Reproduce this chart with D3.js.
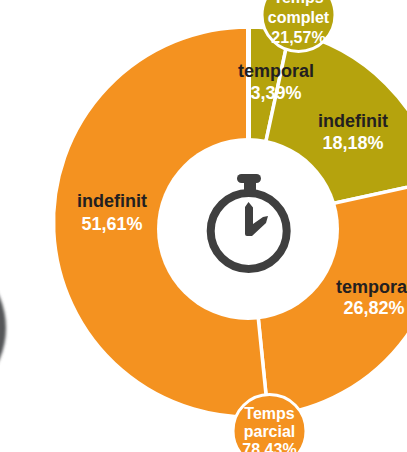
<!DOCTYPE html>
<html>
<head>
<meta charset="utf-8">
<script src="https://cdn.jsdelivr.net/npm/d3@7"></script>
<style>
  html, body { margin: 0; padding: 0; background: #fff; overflow: hidden; }
  text { font-family: "Liberation Sans", Arial, sans-serif; font-weight: 700; text-anchor: middle; }
</style>
</head>
<body>
<div id="wrapper"></div>
<script>
// data, clockwise from the top
const contracts = ["temporal", "indefinit", "temporal", "indefinit"]
const shares = [3.39, 18.18, 26.82, 51.61]
const shareLabels = ["3,39%", "18,18%", "26,82%", "51,61%"]
const groups = ["complet", "complet", "parcial", "parcial"]
const groupNames = ["complet", "parcial"]
const groupLines = [["Temps", "complet", "21,57%"], ["Temps", "parcial", "78,43%"]]

const width = 407
const height = 452
const center = { x: 248.5, y: 222 }
const outerRadius = 195

const svg = d3.select("#wrapper")
  .append("svg")
  .attr("width", width)
  .attr("height", height)

// blurred bit of the neighbouring chart at the left edge
const defs = svg.append("defs")
defs.append("filter")
  .attr("id", "soft")
  .append("feGaussianBlur")
  .attr("stdDeviation", 1.6)

svg.append("circle")
  .attr("cx", -74)
  .attr("cy", 328)
  .attr("r", 80)
  .attr("fill", "#555759")
  .attr("filter", "url(#soft)")

// ring
const colorScale = d3.scaleOrdinal()
  .domain(groupNames)
  .range(["#b5a30d", "#f49220"])

const pie = d3.pie().sort(null)
const arc = d3.arc().innerRadius(0).outerRadius(outerRadius)

const ring = svg.append("g")
  .attr("transform", `translate(${center.x},${center.y})`)

ring.selectAll("path")
  .data(pie(shares))
  .join("path")
  .attr("d", arc)
  .attr("fill", (d, i) => colorScale(groups[i]))
  .attr("stroke", "#fff")
  .attr("stroke-width", 3.5)

// wider gap at 12 o'clock
ring.append("line")
  .attr("y2", -outerRadius)
  .attr("stroke", "#fff")
  .attr("stroke-width", 5)

svg.append("circle")
  .attr("cx", 248)
  .attr("cy", 229)
  .attr("r", 91)
  .attr("fill", "#fff")

// labels inside the ring
const labelSpots = [[276, 77, 99], [353, 127, 149], [374, 293, 314], [112, 207, 230]]

const labels = svg.append("g").attr("font-size", 18)
contracts.forEach((name, i) => {
  const [x, y1, y2] = labelSpots[i]
  labels.append("text")
    .attr("x", x)
    .attr("y", y1)
    .attr("fill", "#231f20")
    .text(name)
  labels.append("text")
    .attr("x", x)
    .attr("y", y2)
    .attr("fill", "#fff")
    .text(shareLabels[i])
})

// bubbles
const bubbleSpots = [[298.5, 15, [3, 22.5, 43]], [269.5, 431, [419, 437, 455]]]

groupNames.forEach((g, i) => {
  const [x, y, lines] = bubbleSpots[i]
  svg.append("circle")
    .attr("cx", x)
    .attr("cy", y)
    .attr("r", 36.5)
    .attr("fill", colorScale(g))
    .attr("stroke", "#fff")
    .attr("stroke-width", 3)
  groupLines[i].forEach((line, j) => {
    svg.append("text")
      .attr("x", x)
      .attr("y", lines[j])
      .attr("font-size", 16)
      .attr("fill", "#fff")
      .text(line)
  })
})

// stopwatch icon
const icon = svg.append("g").attr("fill", "#3f3f3f")
icon.append("circle")
  .attr("cx", 248.7)
  .attr("cy", 231)
  .attr("r", 38)
  .attr("fill", "none")
  .attr("stroke", "#3f3f3f")
  .attr("stroke-width", 8)
icon.append("rect")
  .attr("x", 237)
  .attr("y", 174)
  .attr("width", 24)
  .attr("height", 9)
  .attr("rx", 4.5)
icon.append("rect")
  .attr("x", 244)
  .attr("y", 178)
  .attr("width", 12)
  .attr("height", 15)
icon.append("path")
  .attr("d", "M248.5,202 L253,207.5 L253,224 L263,217 L268,216 L266,223 L252,236 L247,236 Q245,236 245,234 L245,207 Z")
</script>
</body>
</html>
